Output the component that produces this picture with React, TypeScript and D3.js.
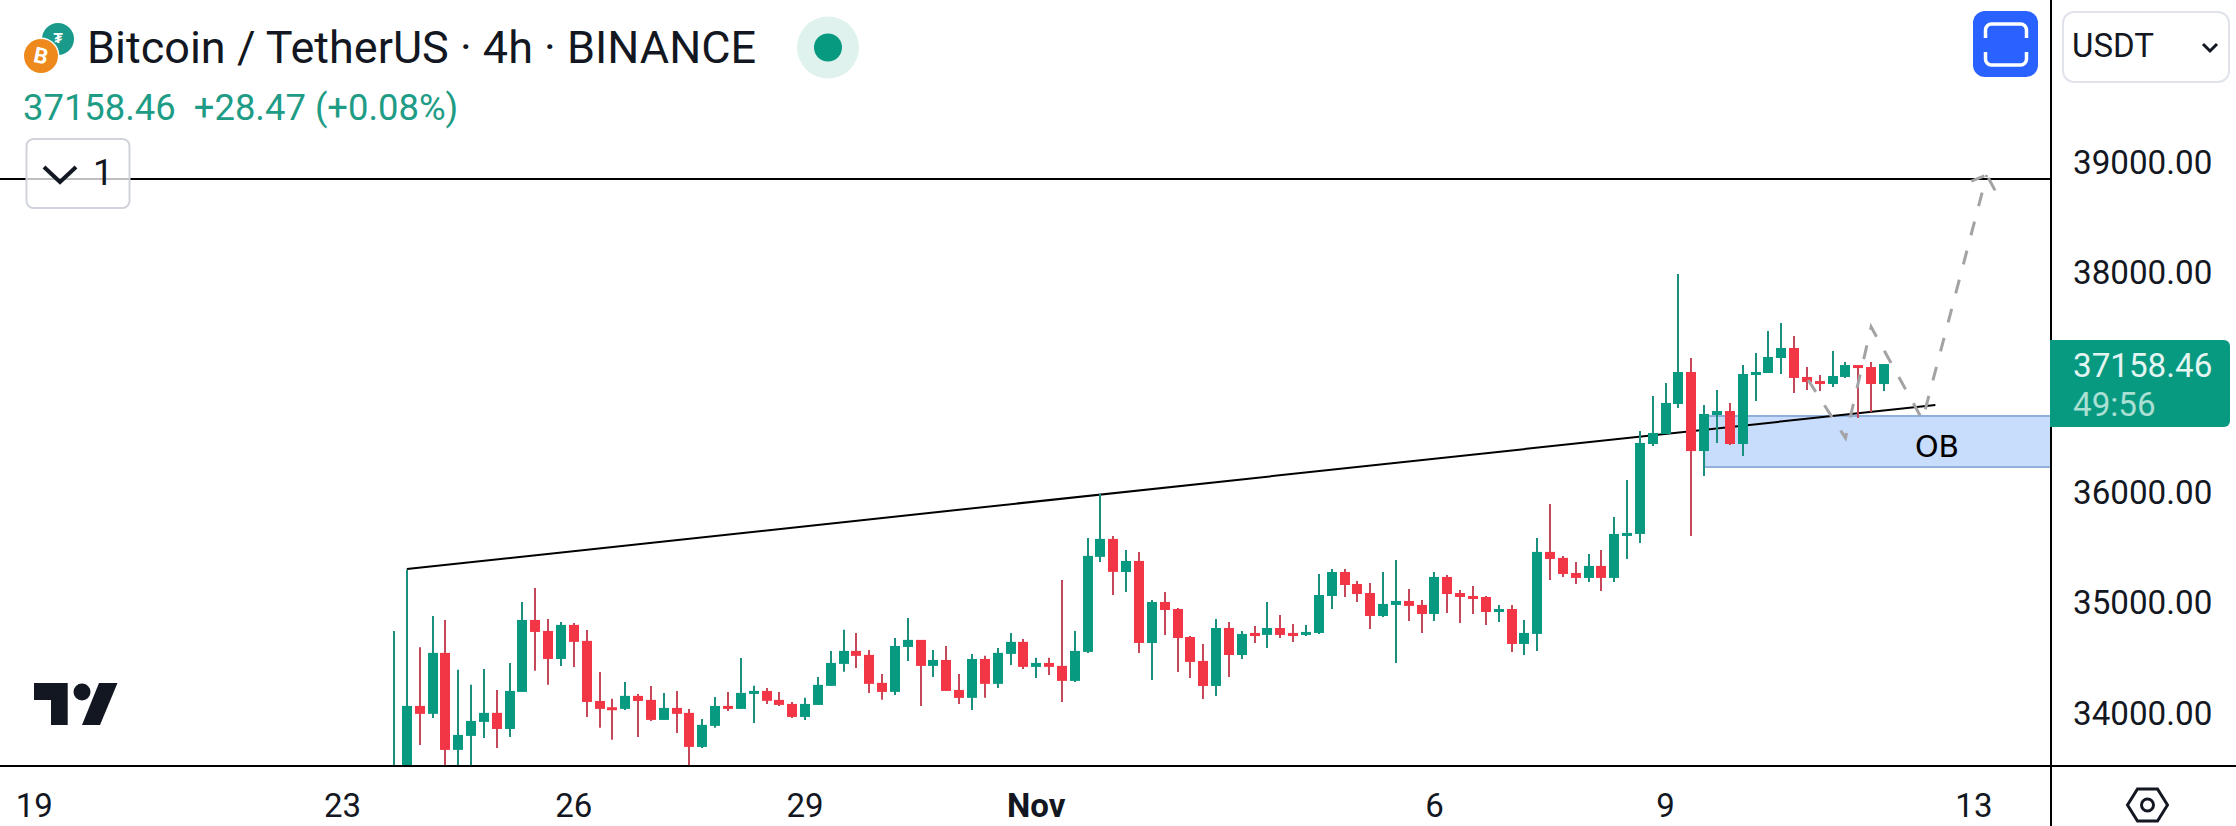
import React from "react";
import * as d3 from "d3";

const opens = [33250,33300,34057,33985,34538,33658,33785,33912,33994,33848,34184,34837,34737,34483,34792,34647,34102,34045,34030,34148,34112,33930,34039,33994,33685,33876,34057,34030,34172,34193,34112,34075,33957,34066,34239,34438,34556,34520,34266,34184,34592,34656,34420,34474,34202,34130,34483,34257,34529,34638,34411,34447,34420,34284,34547,35409,35572,35272,35372,34628,35000,34936,34682,34465,34238,34764,34519,34719,34701,34764,34719,34701,34719,35054,35272,35163,35081,34873,34973,35009,34973,34891,35227,35081,35054,35045,34912,34936,34619,34710,35454,35400,35263,35218,35327,35218,35611,35617,36433,36524,36796,37086,36369,36696,36732,36433,37059,37077,37213,37304,37041,37004,36977,37041,37149,37131,36977];
const highs = [34737,35291,34589,34873,34837,34384,34248,34393,34202,34447,35000,35127,34846,34819,34810,34746,34365,34121,34275,34166,34238,34175,34193,34030,33939,34139,34184,34492,34239,34220,34184,34093,34130,34320,34556,34747,34719,34565,34347,34674,34855,34656,34565,34601,34347,34529,34511,34583,34719,34665,34493,34493,35200,34737,35581,35980,35599,35472,35453,35018,35091,34945,34691,34619,34846,34818,34737,34782,35000,34882,34800,34791,35254,35299,35299,35190,35172,35272,35381,35118,35018,35272,35245,35109,35145,35054,34973,34973,34837,35581,35889,35418,35363,35436,35472,35771,36106,36551,36868,36986,37975,37213,36787,36923,36805,37149,37258,37458,37530,37412,37131,37059,37276,37177,37149,37177,37158];
const lows = [33200,33200,33703,33948,33450,33400,33420,33767,33676,33776,34184,34375,34248,34420,34411,33957,33858,33749,34021,33776,33921,33930,33812,33505,33676,33858,34012,34030,33903,34075,34057,33948,33930,34066,34239,34366,34402,34175,34112,34157,34465,34057,34320,34193,34075,34021,34130,34220,34429,34393,34311,34338,34093,34275,34538,35363,35064,35091,34537,34292,34701,34365,34311,34120,34147,34320,34483,34628,34583,34673,34637,34691,34710,34936,35045,35000,34755,34864,34447,34828,34719,34828,34900,34809,34891,34791,34818,34546,34519,34556,35200,35227,35164,35182,35100,35182,35390,35535,36415,36524,36759,35598,36143,36442,36424,36324,36823,37077,37068,36896,36923,36914,36950,37032,36669,36723,36914];
const closes = [33400,34057,33985,34538,33658,33794,33921,33994,33848,34193,34837,34728,34483,34792,34638,34093,34030,34027,34148,34102,33930,34039,33985,33685,33885,34057,34030,34175,34193,34103,34066,33957,34075,34248,34447,34556,34511,34257,34184,34601,34656,34420,34474,34193,34130,34483,34257,34538,34638,34411,34447,34411,34284,34556,35418,35572,35273,35372,34628,35000,34927,34673,34456,34238,34764,34519,34710,34691,34764,34701,34691,34728,35063,35272,35154,35072,34873,34982,35009,34964,34891,35227,35072,35045,35039,34909,34936,34619,34719,35454,35390,35254,35218,35327,35218,35617,35626,36442,36533,36805,37086,36369,36705,36732,36433,37068,37086,37222,37304,37032,36995,36977,37050,37149,37122,36977,37158];

const priceTicks = [39000, 38000, 36000, 35000, 34000];
const timeTicks = [
  { bar: -28, label: "19" },
  { bar: -4, label: "23" },
  { bar: 14, label: "26" },
  { bar: 32, label: "29" },
  { bar: 50, label: "Nov", bold: true },
  { bar: 81, label: "6" },
  { bar: 99, label: "9" },
  { bar: 123, label: "13" },
];

// drawings on the chart: [bar, price]
const hLevel = 38837;
const trendLine: [number, number][] = [[1, 35299], [120, 36787]];
const obZone = { fromBar: 102, top: 36687, bottom: 36224 };
const forecast: [number, number][] = [[110.1, 37013], [113, 36487], [115, 37494], [119, 36651], [124, 38873]];
const arrowHead: [number, number][] = [[122.8, 38818], [124, 38873], [124.8, 38700]];

const GREEN = "#089981";
const RED = "#f23645";
const TEXT = "#131722";
const FONT = "Roboto, sans-serif";

const W = 2236;
const H = 826;
const plotRight = 2051;
const plotBottom = 766;

const App: React.FC = () => {
  const x = d3.scaleLinear().domain([0, 116]).range([394, 1884]);
  const y = d3.scaleLinear().domain([34000, 39000]).range([712.2, 161]);
  const line = d3.line<[number, number]>().x(d => x(d[0])).y(d => y(d[1]));

  const hexagon = d3.range(6).map(i => {
    const a = (i * Math.PI) / 3;
    return [2147.5 + 20 * Math.cos(a), 805 + 18.5 * Math.sin(a)] as [number, number];
  });

  return (
    <svg width={W} height={H} style={{ position: "absolute", left: 0, top: 0, display: "block", background: "#fff" }} fontFamily={FONT}>
      <defs>
        <clipPath id="plot">
          <rect x={0} y={0} width={plotRight - 1} height={plotBottom - 1} />
        </clipPath>
      </defs>

      <g clipPath="url(#plot)">
        <rect
          x={x(obZone.fromBar)}
          y={y(obZone.top)}
          width={plotRight - x(obZone.fromBar)}
          height={y(obZone.bottom) - y(obZone.top)}
          fill="#c8dcfb"
          stroke="#8fb0dc"
          strokeWidth={2}
        />
        <path d={line(trendLine) ?? ""} stroke="#000" strokeWidth={2} fill="none" />
        <line x1={0} x2={plotRight} y1={y(hLevel)} y2={y(hLevel)} stroke="#000" strokeWidth={2} />

        {closes.map((c, i) => {
          const o = opens[i];
          const up = c >= o;
          const cx = Math.round(x(i));
          const top = y(Math.max(o, c));
          const h = Math.max(3, y(Math.min(o, c)) - top);
          return (
            <g key={i}>
              <line x1={cx} x2={cx} y1={y(highs[i])} y2={y(lows[i])} stroke={up ? "#1b8f7d" : "#c4485a"} strokeWidth={2} />
              <rect x={cx - 5} y={top} width={10} height={h} fill={up ? GREEN : RED} />
            </g>
          );
        })}

        <path d={line(forecast) ?? ""} stroke="#a3a3a6" strokeWidth={3} strokeDasharray="14 16" fill="none" />
        <path d={line(arrowHead) ?? ""} stroke="#a3a3a6" strokeWidth={3} strokeDasharray="14 6" fill="none" />
        <text x={1937} y={446} fontSize={30} fill="#000" textAnchor="middle" dominantBaseline="central" fontFamily="'DejaVu Sans', sans-serif">OB</text>
      </g>

      {/* frame */}
      <line x1={0} x2={W} y1={plotBottom} y2={plotBottom} stroke="#000" strokeWidth={2} />
      <line x1={plotRight} x2={plotRight} y1={0} y2={H} stroke="#000" strokeWidth={2} />

      {/* header */}
      <circle cx={58} cy={39} r={16} fill="#1a9a8a" />
      <text x={58} y={38} fontSize={15} fontWeight={700} fill="#fff" textAnchor="middle" dominantBaseline="central">₮</text>
      <circle cx={41} cy={56} r={18.5} fill="#fff" />
      <circle cx={41} cy={56} r={17} fill="#ee8a1d" />
      <text x={41} y={56} fontSize={22} fontWeight={700} fill="#fff" textAnchor="middle" dominantBaseline="central" transform="rotate(12 41 56)">B</text>

      <text x={87} y={47} fontSize={45} fill={TEXT} dominantBaseline="central">Bitcoin / TetherUS · 4h · BINANCE</text>
      <text x={23} y={107} fontSize={36.4} fill="#1e9c85" dominantBaseline="central" xmlSpace="preserve">37158.46  +28.47 (+0.08%)</text>

      <circle cx={828} cy={47.5} r={31} fill="#dff2ee" />
      <circle cx={828} cy={47.5} r={14} fill={GREEN} />

      <rect x={26.5} y={139} width={103} height={69} rx={7} fill="#fff" fillOpacity={0.75} stroke="#d1d4dc" strokeWidth={2} />
      <path d="M44 167 L60 182 L76 167" fill="none" stroke={TEXT} strokeWidth={4} />
      <text x={103} y={173} fontSize={36} fill={TEXT} textAnchor="middle" dominantBaseline="central">1</text>

      <rect x={1973} y={11} width={65} height={66} rx={12} fill="#2962ff" />
      <path
        d="M1985.5 38 V30 a6 6 0 0 1 6 -6 H2020.5 a6 6 0 0 1 6 6 V38 M1985.5 52 V59 a6 6 0 0 0 6 6 H2020.5 a6 6 0 0 0 6 -6 V52"
        fill="none"
        stroke="#fff"
        strokeWidth={3.5}
      />

      {/* logo */}
      <path d="M34 683 H67.7 V725 H51 V700 H34 Z" fill={TEXT} />
      <circle cx={82} cy={692} r={8.5} fill={TEXT} />
      <path d="M99 683 H117.5 L100 725 H82 Z" fill={TEXT} />

      {/* price scale */}
      <rect x={2063} y={12} width={166} height={70} rx={11} fill="#fff" stroke="#e0e3eb" strokeWidth={2} />
      <text x={2072} y={45} fontSize={33} fill={TEXT} dominantBaseline="central">USDT</text>
      <path d="M2203 44 L2210 51 L2217 44" fill="none" stroke={TEXT} strokeWidth={3} />

      {priceTicks.map(t => (
        <text key={t} x={2073} y={y(t) + 1} fontSize={33.2} fill={TEXT} dominantBaseline="central">
          {d3.format(".2f")(t)}
        </text>
      ))}

      <path d="M2050 340 H2224 a6 6 0 0 1 6 6 V421 a6 6 0 0 1 -6 6 H2050 Z" fill={GREEN} />
      <text x={2073} y={365.5} fontSize={33.2} fill="#e3f5f1" dominantBaseline="central">37158.46</text>
      <text x={2073} y={404} fontSize={33.2} fill="#a9e0d3" dominantBaseline="central">49:56</text>

      {/* time scale */}
      {timeTicks.map(t => (
        <text
          key={t.label}
          x={x(t.bar)}
          y={805}
          fontSize={33}
          fontWeight={t.bold ? 700 : 400}
          fill={TEXT}
          textAnchor="middle"
          dominantBaseline="central"
        >
          {t.label}
        </text>
      ))}

      <path d={d3.line()(hexagon) + "Z"} fill="none" stroke={TEXT} strokeWidth={3} />
      <circle cx={2147.5} cy={805} r={6} fill="none" stroke={TEXT} strokeWidth={3} />
    </svg>
  );
};

export default App;
